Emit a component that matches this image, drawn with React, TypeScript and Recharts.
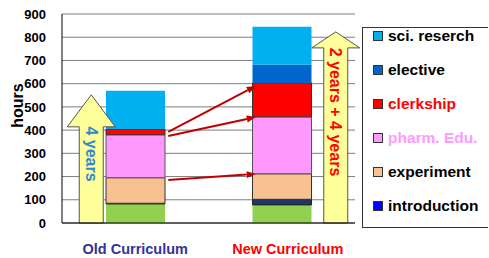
import { BarChart, Bar, XAxis, YAxis, CartesianGrid, Legend, ReferenceLine } from "recharts";

const CATEGORIES = ["Old Curriculum", "New Curriculum"];
const GENERAL = [82, 78];
const INTRODUCTION = [3, 24];
const EXPERIMENT = [110, 110];
const PHARM_EDU = [185, 245];
const CLERKSHIP = [25, 146];
const ELECTIVE = [0, 78];
const SCI_RESEARCH = [164, 164];
const Y_TICKS = [0, 100, 200, 300, 400, 500, 600, 700, 800, 900];

// red arrows old -> new (values in hours)
const SHIFT_ARROWS = [
  { from: 392, to: 590 },
  { from: 375, to: 456 },
  { from: 185, to: 211 },
];

// big yellow arrows next to each bar
const YEAR_ARROWS = [
  { cat: "Old Curriculum", top: 552, label: "4 years", color: "#2f86d2", dx: -44, head: 32, textY: 154 },
  { cat: "New Curriculum", top: 823, label: "2 years + 4 years", color: "#ff0000", dx: 54, head: 16, textY: 112 },
];

const SERIES = [
  { key: "general", name: "general", data: GENERAL, fill: "#92d050", stroke: "none", legend: false },
  { key: "intro", name: "introduction", data: INTRODUCTION, fill: "#1f3766", stroke: "#222", legend: true, legendColor: "#0000ff", text: "#000" },
  { key: "exp", name: "experiment", data: EXPERIMENT, fill: "#f8c191", stroke: "#333", legend: true, legendColor: "#f8c191", text: "#000" },
  { key: "pharm", name: "pharm. Edu.", data: PHARM_EDU, fill: "#ff99ff", stroke: "#555", legend: true, legendColor: "#ff99ff", text: "#ff99ff" },
  { key: "clerk", name: "clerkship", data: CLERKSHIP, fill: "#ff0000", stroke: "#333", legend: true, legendColor: "#ff0000", text: "#ff0000" },
  { key: "elective", name: "elective", data: ELECTIVE, fill: "#0066cc", stroke: "none", legend: true, legendColor: "#0066cc", text: "#000" },
  { key: "sci", name: "sci. reserch", data: SCI_RESEARCH, fill: "#00b0f0", stroke: "none", legend: true, legendColor: "#00b0f0", text: "#000" },
];

const rows = CATEGORIES.map((name, i) => {
  const row: Record<string, string | number> = { name };
  SERIES.forEach((s) => (row[s.key] = s.data[i]));
  return row;
});

const FONT = "'Liberation Sans', Arial, sans-serif";

function XTick({ x, y, payload }: any) {
  const isOld = payload.value === "Old Curriculum";
  return (
    <text
      x={x + (isOld ? 0 : 6)}
      y={y + 23}
      textAnchor="middle"
      fontFamily={FONT}
      fontWeight="bold"
      fontSize={14.5}
      fill={isOld ? "#333399" : "#ff0000"}
    >
      {payload.value}
    </text>
  );
}

function LegendBox() {
  const items = SERIES.filter((s) => s.legend).reverse();
  return (
    <div style={{ border: "1px solid #333", borderRight: "none", width: 126, height: 201, boxSizing: "border-box", fontFamily: FONT }}>
      <div style={{ position: "relative", top: -9 }}>
        {items.map((s) => (
          <div key={s.key} style={{ height: 34, display: "flex", alignItems: "center" }}>
            <span
              style={{
                display: "inline-block",
                width: 8,
                height: 8,
                marginLeft: 10,
                marginRight: 5,
                background: s.legendColor,
                border: "1px solid #333",
              }}
            />
            <span style={{ fontWeight: "bold", fontSize: 15.5, color: s.text, whiteSpace: "nowrap" }}>{s.name}</span>
          </div>
        ))}
      </div>
    </div>
  );
}

function shiftArrow(p: any) {
  const x1 = p.x1 + 33;
  const x2 = p.x2 - 26;
  const { y1, y2 } = p;
  const a = Math.atan2(y2 - y1, x2 - x1);
  const len = 9;
  const w = 3.5;
  const bx = x2 - len * Math.cos(a);
  const by = y2 - len * Math.sin(a);
  const pts = [
    [x2, y2],
    [bx - w * Math.sin(a), by + w * Math.cos(a)],
    [bx + w * Math.sin(a), by - w * Math.cos(a)],
  ]
    .map((q) => q.join(","))
    .join(" ");
  return (
    <g>
      <line x1={x1} y1={y1} x2={bx} y2={by} stroke="#c00000" strokeWidth={2} />
      <polygon points={pts} fill="#c00000" />
    </g>
  );
}

function yearArrow(arrow: (typeof YEAR_ARROWS)[number]) {
  return (p: any) => {
    const cx = p.x1 + arrow.dx;
    const bottom = p.y1;
    const tip = p.y2;
    const base = tip + arrow.head;
    const pts = [
      [cx, tip],
      [cx + 24, base],
      [cx + 12, base],
      [cx + 12, bottom],
      [cx - 12, bottom],
      [cx - 12, base],
      [cx - 24, base],
    ]
      .map((q) => q.join(","))
      .join(" ");
    return (
      <g>
        <polygon points={pts} fill="#ffff99" stroke="#555" strokeWidth={1} />
        <text
          x={cx}
          y={arrow.textY}
          transform={`rotate(90 ${cx} ${arrow.textY})`}
          textAnchor="middle"
          dominantBaseline="central"
          fontFamily={FONT}
          fontWeight="bold"
          fontSize={16}
          fill={arrow.color}
        >
          {arrow.label}
        </text>
      </g>
    );
  };
}

export default function App() {
  return (
    <div style={{ position: "absolute", left: 0, top: 0 }}>
      <BarChart width={489} height={258} data={rows} margin={{ top: 14, right: 134, bottom: 0, left: 0 }} barSize={59}>
        <CartesianGrid vertical={false} stroke="#7f7f7f" />
        <XAxis
          dataKey="name"
          height={35}
          tick={<XTick />}
          tickLine={false}
          axisLine={{ stroke: "#000" }}
        />
        <YAxis
          width={62}
          domain={[0, 900]}
          ticks={Y_TICKS}
          tickLine={false}
          axisLine={{ stroke: "#000" }}
          tickMargin={10}
          tick={{ fontFamily: FONT, fontWeight: "bold", fontSize: 13, fill: "#000" }}
          label={({ viewBox }: any) => {
            const x = viewBox.x + 17;
            const y = viewBox.y + viewBox.height / 2 - 13;
            return (
              <text x={x} y={y} transform={`rotate(-90 ${x} ${y})`} textAnchor="middle" dominantBaseline="central" fontFamily={FONT} fontWeight="bold" fontSize={16} fill="#000">
                hours
              </text>
            );
          }}
        />
        <YAxis yAxisId="right" orientation="right" width={0} domain={[0, 900]} tick={false} tickLine={false} axisLine={{ stroke: "#333" }} />
        {SERIES.map((s) => (
          <Bar
            key={s.key}
            dataKey={s.key}
            name={s.name}
            stackId="a"
            fill={s.fill}
            stroke={s.stroke}
            strokeWidth={1}
            legendType={s.legend ? "square" : "none"}
            isAnimationActive={false}
          />
        ))}
        {YEAR_ARROWS.map((a) => (
          <ReferenceLine
            key={a.label}
            segment={[
              { x: a.cat, y: 0 },
              { x: a.cat, y: a.top },
            ]}
            shape={yearArrow(a)}
          />
        ))}
        {SHIFT_ARROWS.map((a, i) => (
          <ReferenceLine
            key={i}
            segment={[
              { x: CATEGORIES[0], y: a.from },
              { x: CATEGORIES[1], y: a.to },
            ]}
            shape={shiftArrow}
          />
        ))}
        <Legend
          layout="vertical"
          align="center"
          verticalAlign="middle"
          content={() => <LegendBox />}
          wrapperStyle={{ left: 362, top: 27, width: 127 }}
        />
      </BarChart>
    </div>
  );
}
